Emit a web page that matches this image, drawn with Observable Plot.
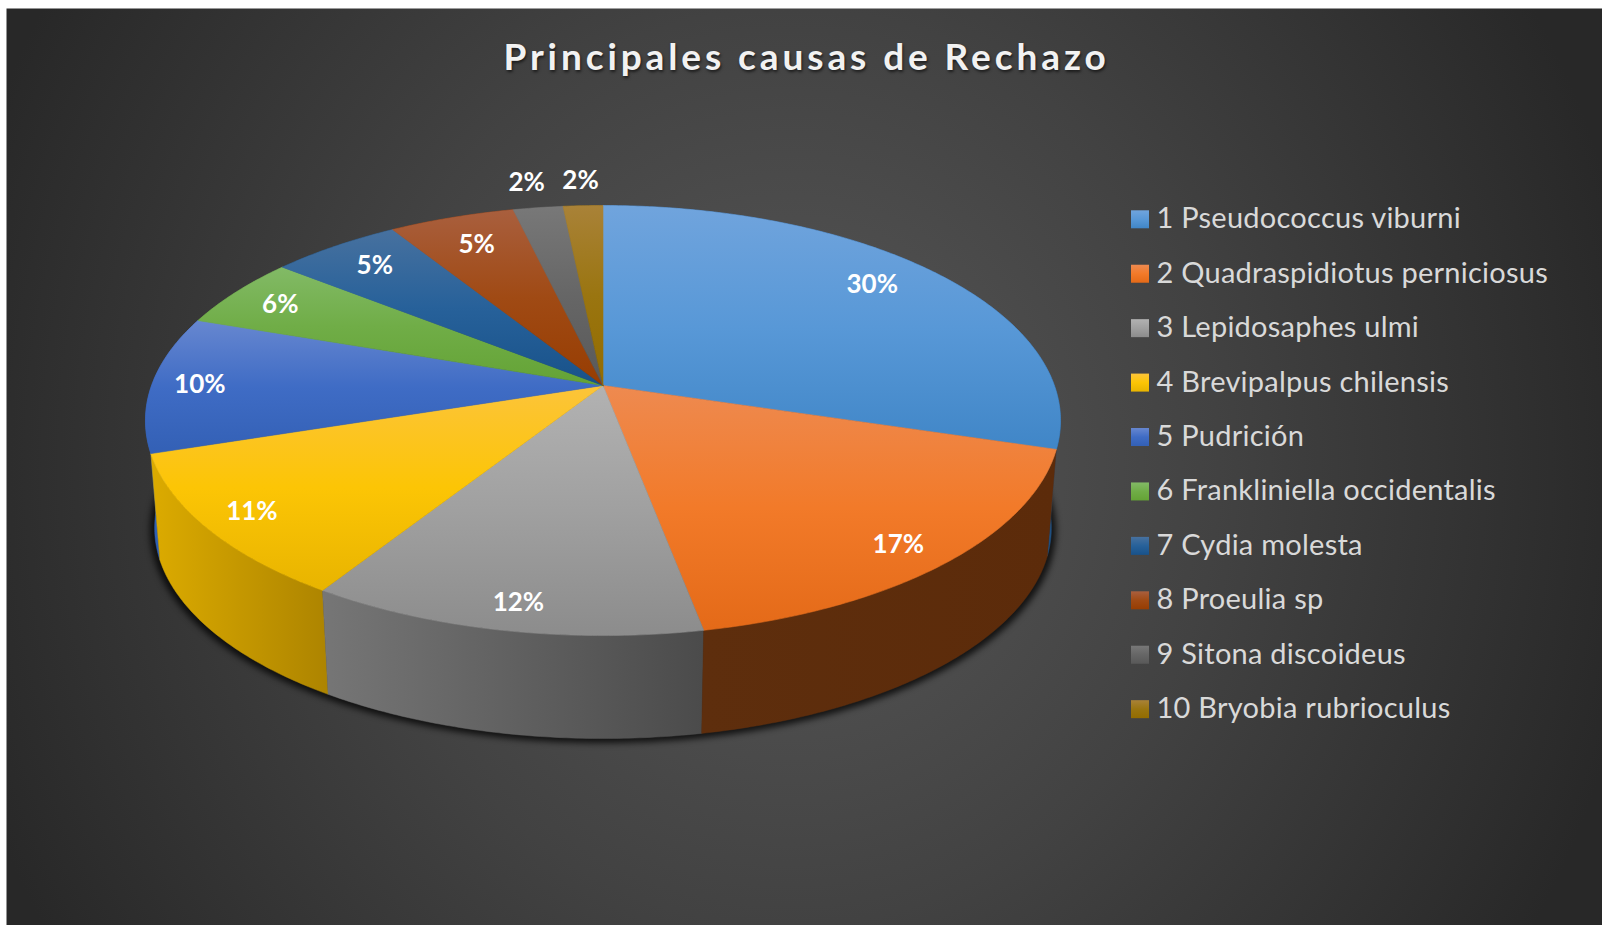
<!DOCTYPE html>
<html lang="es">
<head>
<meta charset="utf-8">
<script src="https://cdn.jsdelivr.net/npm/d3@7"></script>
<script src="https://cdn.jsdelivr.net/npm/@observablehq/plot@0.6"></script>
<style>
  html, body { margin: 0; padding: 0; background: #fff; overflow: hidden; }
  svg { display: block; }
</style>
</head>
<body>
<div id="chart"></div>
<script>
// ---- data ----
const title = "Principales causas de Rechazo";
const categories = ["1 Pseudococcus viburni", "2 Quadraspidiotus perniciosus", "3 Lepidosaphes ulmi",
  "4 Brevipalpus chilensis", "5 Pudrición", "6 Frankliniella occidentalis", "7 Cydia molesta",
  "8 Proeulia sp", "9 Sitona discoideus", "10 Bryobia rubrioculus"];
const shares = [29.7, 17.3, 12, 11, 10.3, 5.4, 5.4, 5.2, 2.06, 1.64];
const labels = ["30%", "17%", "12%", "11%", "10%", "6%", "5%", "5%", "2%", "2%"];

// ---- styling ----
const topStops = [
  ["#70a4dd", "#5898d7", "#4086c7"], ["#ee8a50", "#f27a29", "#e46a18"], ["#b2b2b2", "#a0a0a0", "#8c8c8c"],
  ["#fcc43a", "#fcc505", "#e8b400"], ["#6787d0", "#3f6cc5", "#3360b5"], ["#82ba66", "#70ad47", "#64a335"],
  ["#47719f", "#27619a", "#18528a"], ["#a95f3e", "#a04a14", "#973d02"], ["#787878", "#666666", "#595959"],
  ["#a98238", "#9a7510", "#936c00"]];
const wallStops = [
  ["#1f4f80", "#1f4f80"], ["#5e2e0d", "#5c2b0a"], ["#767676", "#4b4b4b"], ["#dcab00", "#ad8400"],
  ["#2f5fb3", "#2f5fb3"], ["#4c7a30", "#4c7a30"], ["#123a5e", "#123a5e"], ["#6e2c02", "#6e2c02"],
  ["#444", "#444"], ["#6a4e00", "#6a4e00"]];
const labelNudges = [[0, -8.5], [28, 21], [-7, 29], [-41, 15], [-42.5, 0.6], [-25, -5], [-9, -5.5], [-2, -3], [-23, -57], [-6, -57]];

// ---- perspective disc geometry ----
const cx = 602.5, k = 0.163, a = 451.4, b = 209.3;
const topDisc = {y0: 385, s: 1}, baseDisc = {y0: 493, s: 0.98};
const project = (theta, r, disc) => {
  const u = r * Math.sin(theta), v = -r * Math.cos(theta), w = 1 - k * v;
  return {x: cx + disc.s * a * u / w, y: disc.y0 + disc.s * b * v / w};
};
const total = d3.sum(shares);
const cum = d3.cumsum(shares);
const bounds = shares.map((s, i) => [(cum[i] - s) / total * 2 * Math.PI, cum[i] / total * 2 * Math.PI]);
const arc = ([t0, t1], r, disc) => {
  const n = Math.max(2, Math.ceil((t1 - t0) / 0.01));
  return d3.range(n + 1).map(j => project(t0 + (t1 - t0) * j / n, r, disc));
};

const topRows = bounds.flatMap((t, i) => {
  const c = project(0, 0, topDisc);
  return [c, ...arc(t, 1, topDisc), c].map(p => ({...p, z: i, paint: `url(#top${i})`}));
});
// walls painted back to front: side slices first, then the front ones
const wallOrder = [5, 6, 7, 8, 9, 0, 4, 3, 2, 1];
const wallRows = wallOrder.flatMap(i => {
  const ring = [...arc(bounds[i], 1, topDisc), ...arc(bounds[i], 1, baseDisc).reverse()];
  ring.push(ring[0]);
  return ring.map(p => ({...p, z: i, paint: `url(#wall${i})`}));
});
const shadowRows = arc([0, 2 * Math.PI], 1.01, {y0: 494.5, s: baseDisc.s});

const labelRows = bounds.map((t, i) => {
  const p = project((t[0] + t[1]) / 2, 0.8, topDisc);
  return {x: p.x + labelNudges[i][0], y: p.y + labelNudges[i][1], text: labels[i]};
});
const legendRows = categories.map((name, i) => {
  const yc = 219.3 + i * 54.43;
  return {name, x1: 1131, x2: 1149, y1: yc - 9, y2: yc + 9, tx: 1156, ty: yc - 0.8, yc, paint: `url(#top${i})`};
});

// ---- gradient definitions ----
const defsMark = () => {
  const defs = d3.create("svg:defs");
  const bg = defs.append("radialGradient").attr("id", "bg").attr("cx", 0.5).attr("cy", 0.5).attr("r", 1)
    .attr("gradientTransform", "translate(0.49 0.5) scale(0.54 1) translate(-0.5 -0.5)");
  [[0, "#585858"], [0.5, "#424242"], [1, "#282828"]].forEach(([o, c]) => bg.append("stop").attr("offset", o).attr("stop-color", c));
  topStops.forEach((st, i) => {
    const g = defs.append("linearGradient").attr("id", `top${i}`).attr("x1", 0).attr("y1", 0).attr("x2", 0).attr("y2", 1);
    st.forEach((c, j) => g.append("stop").attr("offset", j / (st.length - 1)).attr("stop-color", c));
  });
  wallStops.forEach((st, i) => {
    const g = defs.append("linearGradient").attr("id", `wall${i}`).attr("x1", 0).attr("y1", 0).attr("x2", 1).attr("y2", 0);
    st.forEach((c, j) => g.append("stop").attr("offset", j).attr("stop-color", c));
  });
  return defs.node();
};

// ---- chart ----
const fontFamily = "Lato, 'Open Sans', sans-serif";
const chart = Plot.plot({
  width: 1602, height: 925,
  marginLeft: 6, marginTop: 8, marginRight: 0, marginBottom: 0,
  x: {domain: [6, 1602], range: [6, 1602], axis: null},
  y: {domain: [8, 925], range: [8, 925], axis: null},
  color: {type: "identity"},
  style: {background: "#fff"},
  marks: [
    defsMark,
    Plot.frame({fill: "url(#bg)", stroke: "none"}),
    Plot.line(shadowRows, {x: "x", y: "y", fill: "#000", stroke: "none", fillOpacity: 0.75}),
    Plot.line(wallRows, {x: "x", y: "y", z: "z", fill: "paint", stroke: "paint", strokeWidth: 0.5}),
    Plot.line(topRows, {x: "x", y: "y", z: "z", fill: "paint", stroke: "paint", strokeWidth: 0.6}),
    Plot.text(labelRows, {x: "x", y: "y", text: "text", fill: "#fff", fontFamily, fontWeight: 700, fontSize: 26}),
    Plot.rect(legendRows, {x1: "x1", x2: "x2", y1: "y1", y2: "y2", fill: "paint"}),
    Plot.text(legendRows, {x: "tx", y: "ty", text: "name", textAnchor: "start", fill: "#d9d9d9", fontFamily, fontSize: 29}),
    Plot.text([title], {x: () => 806, y: () => 58, text: d => d, fill: "#f2f2f2", fontFamily, fontWeight: 700, fontSize: 37})
  ]
});
const sel = d3.select(chart);
const lines = sel.selectAll('g[aria-label="line"]').nodes();
d3.select(lines[0]).style("filter", "blur(3px)");
const texts = sel.selectAll('g[aria-label="text"]').nodes();
d3.select(texts[1]).style("letter-spacing", "0.25px");
d3.select(texts[2]).style("letter-spacing", "3.9px").style("text-shadow", "1px 2px 3px rgba(0,0,0,.6)");
document.getElementById("chart").append(chart);
</script>
</body>
</html>
